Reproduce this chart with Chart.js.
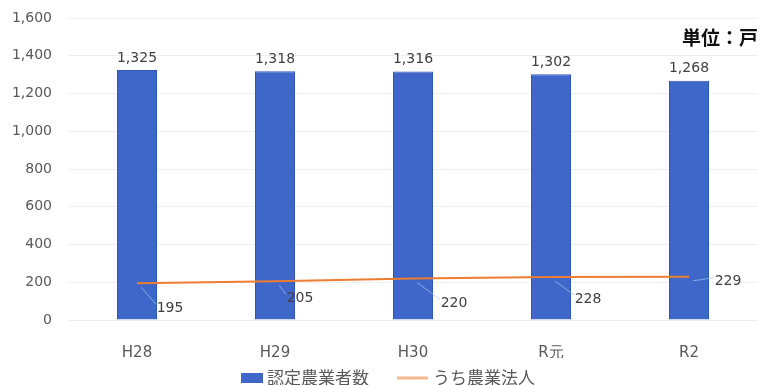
<!DOCTYPE html>
<html lang="ja">
<head>
<meta charset="utf-8">
<script src="https://cdn.jsdelivr.net/npm/chart.js@4.4.1/dist/chart.umd.min.js"></script>
<style>
  html, body { margin: 0; padding: 0; background: #fff; }
  #wrap { position: relative; width: 758px; height: 385px; }
</style>
</head>
<body>
<div id="wrap"><canvas id="chartFarmers"></canvas></div>
<script>
// 年度と件数
const years = ['H28', 'H29', 'H30', 'R元', 'R2'];
const certifiedFarmers = [1325, 1318, 1316, 1302, 1268];
const farmCorporations = [195, 205, 220, 228, 229];
const yTicks = [0, 200, 400, 600, 800, 1000, 1200, 1400, 1600];

// ラベルの位置ずらし（点からの dx, dy）
const corpLabelShift = [[33, 25], [25, 17], [41, 25], [37, 22], [39, 5]];

const numFont = '"DejaVu Sans", sans-serif';
const jpFont = '"Noto Sans CJK JP", sans-serif';

const valueLabels = {
    id: 'valueLabels',
    afterDatasetsDraw(chart) {
        const ctx = chart.ctx;
        ctx.save();
        ctx.font = '14px ' + numFont;
        ctx.fillStyle = '#404040';
        ctx.textAlign = 'center';

        // 棒の上に件数
        ctx.textBaseline = 'bottom';
        chart.getDatasetMeta(0).data.forEach((bar, i) => {
            ctx.fillText(certifiedFarmers[i].toLocaleString('en-US'), bar.x, bar.y - 5);
        });

        // 折れ線の値（引き出し線つき）
        ctx.textBaseline = 'middle';
        chart.getDatasetMeta(1).data.forEach((pt, i) => {
            const [dx, dy] = corpLabelShift[i];
            ctx.strokeStyle = 'rgba(170, 195, 240, 0.7)';
            ctx.lineWidth = 1;
            ctx.beginPath();
            ctx.moveTo(pt.x + 4, pt.y + 4);
            ctx.lineTo(pt.x + dx - 14, pt.y + dy - 4);
            ctx.stroke();
            ctx.fillStyle = '#404040';
            ctx.fillText(String(farmCorporations[i]), pt.x + dx, pt.y + dy);
        });

        // 単位
        ctx.font = 'bold 19px ' + jpFont;
        ctx.fillStyle = '#111';
        ctx.textAlign = 'right';
        ctx.fillText('単位：戸', 758, 38);
        ctx.restore();
    }
};

const bottomLegend = {
    id: 'bottomLegend',
    afterDraw(chart) {
        const ctx = chart.ctx;
        const ds = chart.data.datasets;
        const y = 378;
        ctx.save();
        ctx.font = '17px ' + jpFont;
        ctx.textBaseline = 'middle';
        ctx.textAlign = 'left';

        ctx.fillStyle = ds[0].backgroundColor;
        ctx.fillRect(241, y - 5, 22, 10);
        ctx.fillStyle = '#595959';
        ctx.fillText(ds[0].label, 267, y);

        ctx.globalAlpha = 0.55;
        ctx.strokeStyle = ds[1].borderColor;
        ctx.lineWidth = 3;
        ctx.beginPath();
        ctx.moveTo(397, y);
        ctx.lineTo(428, y);
        ctx.stroke();
        ctx.globalAlpha = 1;
        ctx.fillText(ds[1].label, 433, y);
        ctx.restore();
    }
};

new Chart(document.getElementById('chartFarmers'), {
    data: {
        labels: years,
        datasets: [
            {
                type: 'bar',
                label: '認定農業者数',
                data: certifiedFarmers,
                backgroundColor: '#3f67c9',
                borderColor: '#2f55b8',
                borderWidth: 1,
                categoryPercentage: 1,
                barPercentage: 0.29,
                order: 1
            },
            {
                type: 'line',
                label: 'うち農業法人',
                data: farmCorporations,
                borderColor: '#ed7d31',
                borderWidth: 2,
                pointRadius: 0,
                tension: 0,
                order: 0
            }
        ]
    },
    options: {
        responsive: true,
        maintainAspectRatio: false,
        animation: false,
        layout: { padding: { top: 18, left: 0, right: 0, bottom: 27 } },
        plugins: {
            legend: { display: false },
            tooltip: { enabled: false }
        },
        scales: {
            x: {
                grid: { display: false },
                border: { display: false },
                ticks: {
                    color: '#595959',
                    font: { family: numFont, size: 15 },
                    padding: 16
                },
                afterFit: scale => { scale.height = 38; }
            },
            y: {
                min: 0,
                max: 1600,
                afterBuildTicks: scale => { scale.ticks = yTicks.map(v => ({ value: v })); },
                grid: { color: '#efefef', drawTicks: true, tickLength: 16, tickColor: 'rgba(0,0,0,0)' },
                border: { display: false },
                ticks: {
                    color: '#595959',
                    font: { family: numFont, size: 14 },
                    padding: 0,
                    callback: v => v.toLocaleString('en-US')
                },
                afterFit: scale => { scale.width = 68; }
            }
        }
    },
    plugins: [valueLabels, bottomLegend]
});
</script>
</body>
</html>
